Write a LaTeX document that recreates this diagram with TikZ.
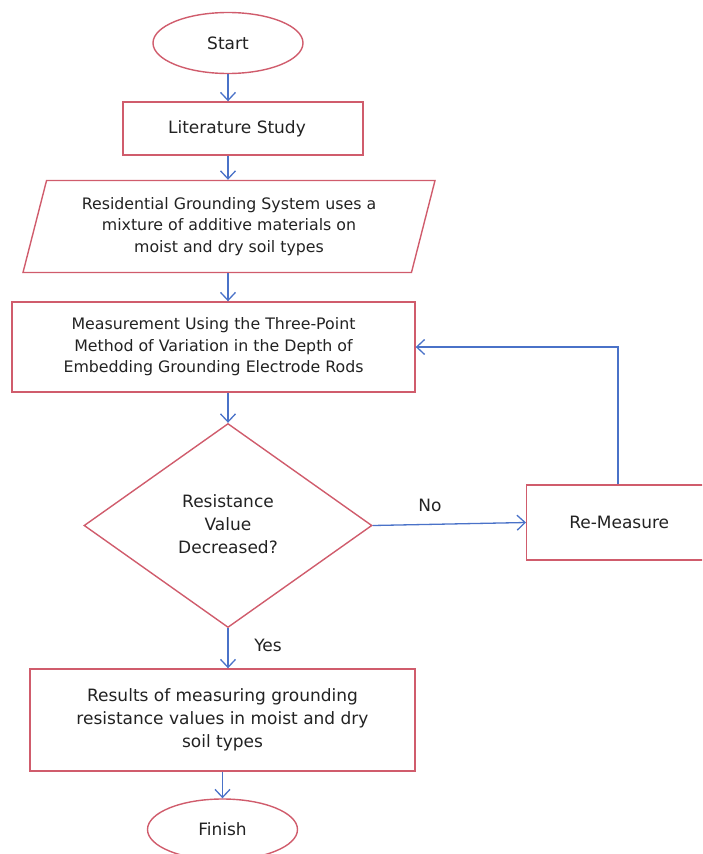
\documentclass[tikz,border=0pt]{standalone}
\usepackage{fontspec}
\setmainfont{DejaVu Sans}
\usetikzlibrary{arrows.meta,positioning,shapes.geometric,calc}
\definecolor{boxred}{RGB}{208,92,108}
\definecolor{lineblue}{RGB}{74,114,200}
\definecolor{txtgray}{RGB}{34,34,34}
\begin{document}
\begin{tikzpicture}[
		x=1pt, y=-1pt,
		font=\fontsize{17}{23}\selectfont,
		text=txtgray,
		> = {Straight Barb[length=8pt,width=15pt]},
		flowbox/.style={draw=boxred,line width=1.4pt,rectangle,align=center,inner sep=2pt},
		term/.style={draw=boxred,line width=1.4pt,ellipse,minimum width=150pt,minimum height=61pt,inner sep=0pt},
		io/.style={draw=boxred,line width=1.4pt,trapezium,trapezium left angle=68,trapezium right angle=112,trapezium stretches body,align=center,inner sep=0pt},
		decide/.style={draw=boxred,line width=1.4pt,diamond,aspect=1.43,align=center,inner sep=0pt},
		small/.style={font=\fontsize{15.8}{21.5}\selectfont},
		flow/.style={->,draw=lineblue,line width=1.3pt},
		lbl/.style={inner sep=1pt}
		]
		\useasboundingbox (0,0) rectangle (702,854);
		\clip (0,0) rectangle (702,854);
		\node[term] at (228,43) (start) {Start};
		\node[flowbox,minimum width=240pt,minimum height=53pt] at (243,128.5) (lit) {\hspace*{-12pt}Literature Study};
		\node[io,small,minimum width=412pt,minimum height=92pt] at (229,226.5) (sys) {Residential Grounding System uses a\\mixture of additive materials on\\moist and dry soil types};
		\node[flowbox,small,minimum width=403pt,minimum height=90pt] at (213.5,347) (meas) {Measurement Using the Three-Point\\Method of Variation in the Depth of\\Embedding Grounding Electrode Rods};
		\node[decide,minimum width=288pt,minimum height=204pt] at (228,525.5) (dec) {\raisebox{7pt}{\begin{tabular}{@{}c@{}}Resistance\\Value\\Decreased?\end{tabular}}};
		\node[flowbox,minimum width=185pt,minimum height=75pt,anchor=west] at (526,522.5) (remeas) {Re-Measure};
		\node[flowbox,minimum width=385pt,minimum height=102pt] at (222.5,720) (res) {Results of measuring grounding\\resistance values in moist and dry\\soil types};
		\node[term] at (222.5,829.5) (fin) {Finish};
		% Draw the flow arrows
		\path[flow] (start.south) -- (start.south |- lit.north);
		\path[flow] (lit.south -| start) -- (sys.north -| start);
		\path[flow] (sys.south -| start) -- (meas.north -| start);
		\path[flow] (meas.south -| start) -- (dec.north);
		\path[flow] (dec.south) -- (res.north -| dec);
		\path[flow] (res.south -| fin) -- (fin.north);
		\path[flow] (dec.east) -- (remeas.west);
		\path[flow] (remeas.north -| 618,0) |- (meas.east);
		% branch labels
		\node[lbl] at (430,505) (no) {No};
		\node[lbl] at (268,645) (yes) {Yes};
\end{tikzpicture}
\end{document}
